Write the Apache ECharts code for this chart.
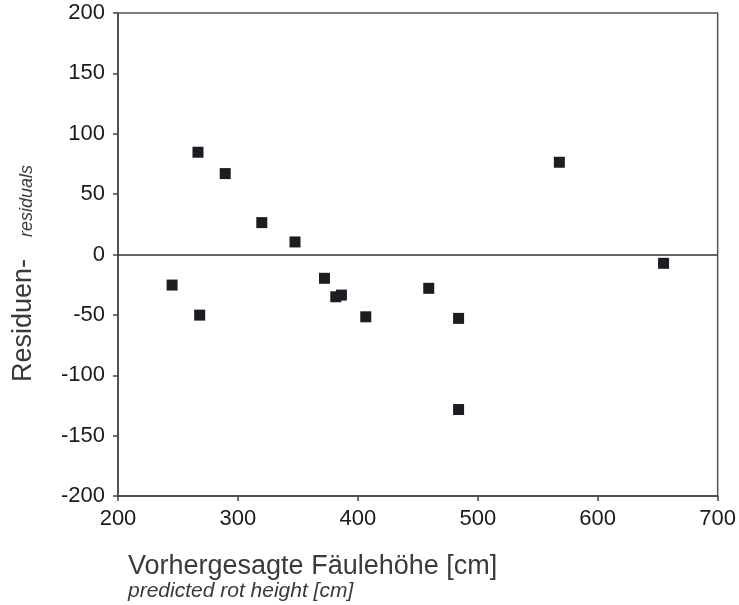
<!DOCTYPE html>
<html>
<head>
<meta charset="utf-8">
<script src="https://cdn.jsdelivr.net/npm/echarts@6/dist/echarts.min.js"></script>
<style>html,body{margin:0;padding:0;background:#fff}#c{width:739px;height:605px}</style>
</head>
<body>
<div id="c"></div>
<script>
const predicted = [245.1, 266.7, 268.1, 289.4, 319.9, 347.6, 372.2, 381.6, 386.3, 406.6, 459.1, 484.0, 484.0, 568.0, 654.9];
const residuals = [-25.3, 84.7, -50.2, 67.0, 26.4, 10.4, -19.7, -35.0, -33.6, -51.6, -28.0, -52.9, -128.4, 76.4, -7.3];
const xTitle = 'Vorhergesagte Fäulehöhe [cm]';
const xSubtitle = 'predicted rot height [cm]';
const yTitle = 'Residuen-';
const ySubtitle = 'residuals';

const FONT = '"Liberation Sans", Arial, Helvetica, sans-serif';
const chart = echarts.init(document.getElementById('c'), null, {renderer: 'canvas'});
const pts = predicted.map((x, i) => [x, residuals[i]]);
chart.setOption({
  animation: false,
  backgroundColor: '#fff',
  grid: {left: 118, top: 13, right: 18, bottom: 109, show: true, borderColor: '#555', borderWidth: 1.5, backgroundColor: 'transparent'},
  xAxis: {
    type: 'value', min: 200, max: 700, interval: 100,
    axisLine: {show: true, onZero: false, lineStyle: {color: '#444', width: 1.5}},
    axisTick: {show: true, inside: false, length: 5, lineStyle: {color: '#444', width: 1.5}},
    axisLabel: {color: '#1a1a1a', fontSize: 22, fontFamily: FONT, margin: 12},
    splitLine: {show: false}
  },
  yAxis: {
    type: 'value', min: -200, max: 200, interval: 50,
    axisLine: {show: true, onZero: false, lineStyle: {color: '#444', width: 1.5}},
    axisTick: {show: true, inside: false, length: 5, lineStyle: {color: '#444', width: 1.5}},
    axisLabel: {color: '#1a1a1a', fontSize: 22, fontFamily: FONT, margin: 13},
    splitLine: {show: false}
  },
  series: [{
    type: 'scatter',
    data: pts,
    symbol: 'rect',
    symbolSize: 11,
    itemStyle: {color: '#1c1d22', opacity: 1},
    markLine: {
      silent: true, symbol: 'none', label: {show: false},
      lineStyle: {color: '#333', width: 1.5, type: 'solid'},
      data: [{yAxis: 0}]
    }
  }],
  graphic: [
    {type: 'text', x: 128, y: 567, style: {text: xTitle, font: '27px ' + FONT, fill: '#3a3a3a', textAlign: 'left', textVerticalAlign: 'middle'}},
    {type: 'text', x: 128, y: 591, style: {text: xSubtitle, font: 'italic 21px ' + FONT, fill: '#3a3a3a', textAlign: 'left', textVerticalAlign: 'middle'}},
    {type: 'text', x: 24, y: 382, rotation: Math.PI / 2, style: {text: yTitle, font: '27px ' + FONT, fill: '#3a3a3a', textAlign: 'left', textVerticalAlign: 'middle'}},
    {type: 'text', x: 27, y: 237, rotation: Math.PI / 2, style: {text: ySubtitle, font: 'italic 18px ' + FONT, fill: '#3a3a3a', textAlign: 'left', textVerticalAlign: 'middle'}}
  ]
});
</script>
</body>
</html>
